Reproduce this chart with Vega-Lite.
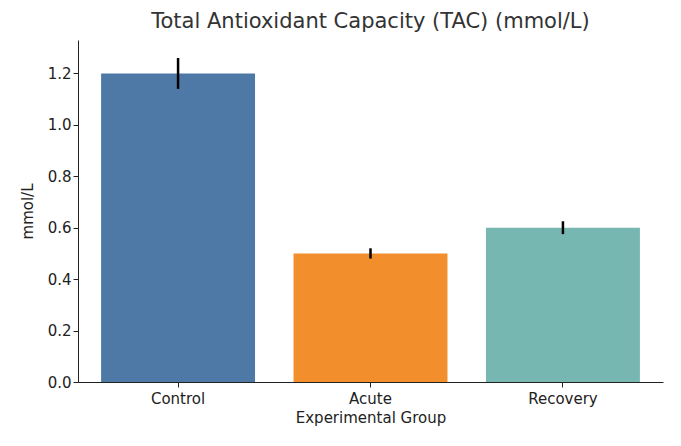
{
"$schema":"https://vega.github.io/schema/vega-lite/v6.json",
"width":585,"height":342,
"padding":{"left":20,"top":11,"right":10,"bottom":2},
"background":"white",
"title":{"text":"Total Antioxidant Capacity (TAC) (mmol/L)","font":"DejaVu Sans","fontSize":21,"fontWeight":"normal","color":"#333","offset":8},
"config":{"view":{"stroke":null},"axis":{"labelFont":"DejaVu Sans","titleFont":"DejaVu Sans","labelFontSize":15,"titleFontSize":15,"titleFontWeight":"normal","labelColor":"#222","titleColor":"#222","domainColor":"#222","tickColor":"#222","grid":false}},
"data":{"values":[
{"group":"Control","value":1.2,"lo":1.14,"hi":1.26},
{"group":"Acute","value":0.5,"lo":0.48,"hi":0.52},
{"group":"Recovery","value":0.6,"lo":0.575,"hi":0.625}
]},
"encoding":{"x":{"field":"group","type":"nominal","sort":null,"title":"Experimental Group","scale":{"paddingInner":0.2,"paddingOuter":0.12},"axis":{"labelAngle":0,"labelPadding":4}}},
"layer":[
{"mark":{"type":"bar"},"encoding":{"y":{"field":"value","type":"quantitative","title":"mmol/L","scale":{"domain":[0,1.33],"nice":false},"axis":{"values":[0,0.2,0.4,0.6,0.8,1.0,1.2],"format":".1f","titlePadding":12}},
"color":{"field":"group","type":"nominal","sort":null,"scale":{"range":["#4e79a7","#f28e2b","#76b7b2"]},"legend":null}}},
{"mark":{"type":"rule","strokeWidth":2.5,"color":"black"},"encoding":{"y":{"field":"lo","type":"quantitative"},"y2":{"field":"hi"}}}
]
}
